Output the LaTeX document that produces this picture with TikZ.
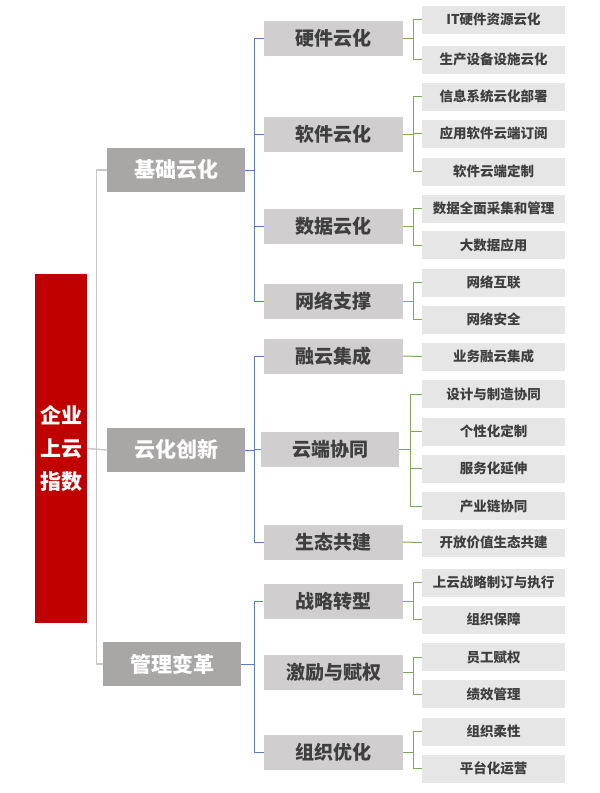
\documentclass[tikz,border=0pt]{standalone}
\usepackage{fontspec}
\setmainfont{Noto Sans CJK SC}
\usetikzlibrary{calc}
\definecolor{rootred}{HTML}{C00000}
\definecolor{lonegray}{HTML}{A9A6A6}
\definecolor{ltwogray}{HTML}{D0CECE}
\definecolor{leafgray}{HTML}{E7E6E6}
\definecolor{txtdark}{HTML}{3F3F3F}
\definecolor{lineblue}{HTML}{5B7FBE}
\definecolor{linegreen}{HTML}{7FA955}
\definecolor{linegray}{HTML}{C8C8C8}
\tikzset{
  rootbox/.style={fill=rootred, text=white, font=\bfseries\fontsize{21}{33}\selectfont, minimum width=52, minimum height=349, inner sep=0, align=center},
  lonebox/.style={fill=lonegray, text=white, font=\bfseries\fontsize{21}{21}\selectfont, minimum width=138, minimum height=44, inner sep=0},
  ltwobox/.style={fill=ltwogray, text=txtdark, font=\bfseries\fontsize{19}{19}\selectfont, minimum width=139, minimum height=35, inner sep=0},
  leafbox/.style={fill=leafgray, text=txtdark, font=\bfseries\fontsize{13.5}{13.5}\selectfont, minimum width=143, minimum height=28, inner sep=0},
  grayline/.style={draw=linegray, line width=1.4},
  blueline/.style={draw=lineblue, line width=1},
  greenline/.style={draw=linegreen, line width=1},
}
\begin{document}
\begin{tikzpicture}[x=1pt, y=-1pt]
\useasboundingbox[fill=white] (0,0) rectangle (600,793);
% root
\node[rootbox] (root) at (61,448.5) {企业\\上云\\指数};
% level 1
\node[lonebox] (la) at (176,170) {基础云化};
\node[lonebox] (lb) at (176,450) {云化创新};
\node[lonebox] (lc) at (172,664) {管理变革};
% level 2
\node[ltwobox] (a1) at (333.5,38.5) {硬件云化};
\node[ltwobox] (a2) at (333.5,134) {软件云化};
\node[ltwobox] (a3) at (333.5,226.5) {数据云化};
\node[ltwobox] (a4) at (333.5,301.5) {网络支撑};
\node[ltwobox] (b1) at (333.5,356) {融云集成};
\node[ltwobox, minimum width=138] (b2) at (330,449) {云端协同};
\node[ltwobox] (b3) at (333.5,542) {生态共建};
\node[ltwobox] (c1) at (333,601.5) {战略转型};
\node[ltwobox] (c2) at (333.5,672) {激励与赋权};
\node[ltwobox] (c3) at (333.5,752.5) {组织优化};
% leaves
\node[leafbox] (a11) at (493.5,19.5) {IT硬件资源云化};
\node[leafbox] (a12) at (493.5,59.5) {生产设备设施云化};
\node[leafbox] (a21) at (493.5,96.5) {信息系统云化部署};
\node[leafbox] (a22) at (493.5,133.5) {应用软件云端订阅};
\node[leafbox] (a23) at (493.5,171.5) {软件云端定制};
\node[leafbox] (a31) at (493.5,208.5) {数据全面采集和管理};
\node[leafbox] (a32) at (493.5,245) {大数据应用};
\node[leafbox] (a41) at (493.5,282.5) {网络互联};
\node[leafbox] (a42) at (493.5,319.5) {网络安全};
\node[leafbox] (b11) at (493.5,356.5) {业务融云集成};
\node[leafbox] (b21) at (493.5,394) {设计与制造协同};
\node[leafbox] (b22) at (493.5,431.5) {个性化定制};
\node[leafbox] (b23) at (493.5,468.5) {服务化延伸};
\node[leafbox] (b24) at (493.5,506) {产业链协同};
\node[leafbox] (b31) at (493.5,542.5) {开放价值生态共建};
\node[leafbox] (c11) at (493.5,582.5) {上云战略制订与执行};
\node[leafbox] (c12) at (493.5,619.5) {组织保障};
\node[leafbox] (c21) at (493.5,657) {员工赋权};
\node[leafbox] (c22) at (493.5,694) {绩效管理};
\node[leafbox] (c31) at (493.5,731.5) {组织柔性};
\node[leafbox] (c32) at (493.5,768.5) {平台化运营};
% bus coordinates
\coordinate (gbus) at (96.5,0);
\coordinate (bbus) at (254.5,0);
\coordinate (gnbus) at (413,0);
\coordinate (gnbusb) at (410,0);
% gray connectors
\draw[grayline] (la.west) -- (la.west -| gbus) |- (lc.west);
\draw[grayline] (root.east) -- (lb.west);
% blue connectors
\foreach \p/\f/\l in {la/a1/a4, lb/b1/b3, lc/c1/c3}{
  \draw[blueline] (\p.east) -- (\p.east -| bbus);
  \draw[blueline] (\f.west) -- (\f.west -| bbus) |- (\l.west);
}
\foreach \m in {a2,a3,b2}{
  \draw[blueline] (\m.west) -- (\m.west -| bbus);
}
% green connectors
\foreach \p/\f/\l in {a1/a11/a12, a2/a21/a23, a3/a31/a32, a4/a41/a42, c1/c11/c12, c2/c21/c22, c3/c31/c32}{
  \draw[greenline] (\p.east) -- (\p.east -| gnbus);
  \draw[greenline] (\f.west) -- (\f.west -| gnbus) |- (\l.west);
}
\draw[greenline] (a22.west) -- (a22.west -| gnbus);
\draw[greenline] (b1.east) -- (b11.west);
\draw[greenline] (b3.east) -- (b31.west);
\draw[greenline] (b2.east) -- (b2.east -| gnbusb);
\draw[greenline] (b21.west) -- (b21.west -| gnbusb) |- (b24.west);
\draw[greenline] (b22.west) -- (b22.west -| gnbusb);
\draw[greenline] (b23.west) -- (b23.west -| gnbusb);
\end{tikzpicture}
\end{document}
